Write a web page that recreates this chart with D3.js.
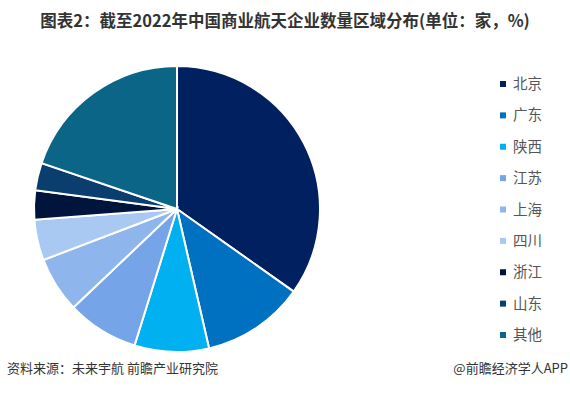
<!DOCTYPE html>
<html>
<head>
<meta charset="utf-8">
<script src="https://cdn.jsdelivr.net/npm/d3@7"></script>
<style>
  body { margin: 0; background: #fff; }
  text { font-family: "Noto Sans CJK SC", "Noto Sans", sans-serif; }
</style>
</head>
<body>
<svg id="chart" width="570" height="396"></svg>
<script>
// regions and their share (%)
var regions = ["北京", "广东", "陕西", "江苏", "上海", "四川", "浙江", "山东", "其他"];
var shares = [34.8, 11.6, 8.4, 8.1, 6.3, 4.6, 3.3, 3.1, 19.8];
var colors = ["#002060", "#0070C0", "#00B0F0", "#75A5E8", "#8FB6EC", "#AAC9F2", "#00143C", "#0A3E6E", "#0B6586"];

var width = 570,
	height = 396,
	radius = 143,
	cx = 177,
	cy = 209;

var svg = d3.select("#chart");

// title
svg.append("text")
	.attr("x", width / 2)
	.attr("y", 27)
	.attr("text-anchor", "middle")
	.attr("font-size", 16.5)
	.attr("font-weight", "bold")
	.attr("fill", "#333")
	.text("图表2：截至2022年中国商业航天企业数量区域分布(单位：家，%)");

var data = regions.map(function (r, i) { return { name: r, value: shares[i], color: colors[i] }; });

var pie = d3.pie()
	.sort(null)
	.value(function (d) { return d.value; });

var arc = d3.arc()
	.innerRadius(0)
	.outerRadius(radius);

svg.append("g")
	.attr("transform", "translate(" + cx + "," + cy + ")")
	.selectAll("path")
	.data(pie(data))
	.enter().append("path")
	.attr("d", arc)
	.attr("fill", function (d) { return d.data.color; })
	.attr("stroke", "#fff")
	.attr("stroke-width", 2);

// legend
var legendY = d3.scalePoint()
	.domain(regions)
	.range([84, 335]);

var legend = svg.append("g")
	.selectAll("g")
	.data(data)
	.enter().append("g")
	.attr("transform", function (d) { return "translate(0," + legendY(d.name) + ")"; });

legend.append("rect")
	.attr("x", 500)
	.attr("y", -3)
	.attr("width", 6)
	.attr("height", 6)
	.attr("fill", function (d) { return d.color; });

legend.append("text")
	.attr("x", 513)
	.attr("y", 5)
	.attr("font-size", 14.5)
	.attr("fill", "#555")
	.text(function (d) { return d.name; });

// footer
svg.append("text")
	.attr("x", 7)
	.attr("y", 373)
	.attr("font-size", 13)
	.attr("fill", "#333")
	.text("资料来源：未来宇航 前瞻产业研究院");

svg.append("text")
	.attr("x", 568)
	.attr("y", 373)
	.attr("text-anchor", "end")
	.attr("font-size", 13)
	.attr("fill", "#333")
	.text("@前瞻经济学人APP");
</script>
</body>
</html>
